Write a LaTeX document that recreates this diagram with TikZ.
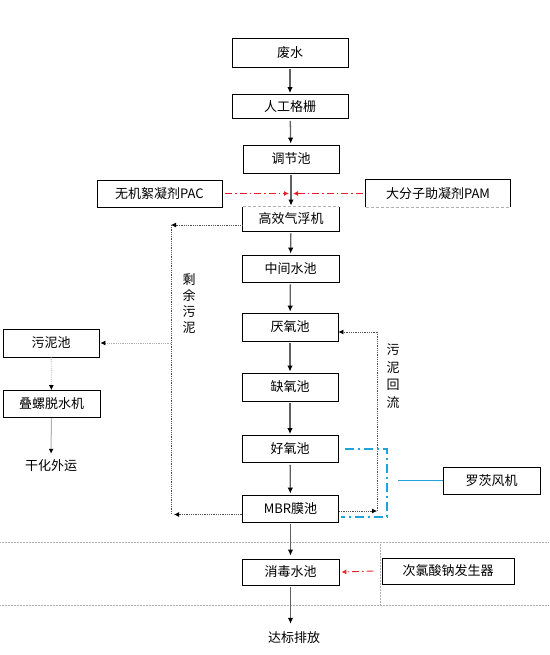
\documentclass[tikz,border=0pt]{standalone}
\usepackage{fontspec}
\setmainfont{Noto Sans CJK SC}
\usetikzlibrary{arrows.meta}
\definecolor{lineg}{HTML}{606060}
\definecolor{dotg}{HTML}{505050}
\definecolor{lightg}{HTML}{B0B0B0}
\definecolor{redd}{HTML}{E8202A}
\definecolor{blued}{HTML}{1FA3DA}
\begin{document}
\begin{tikzpicture}[x=1pt,y=-1pt,
  box/.style={draw=black,line width=0.8pt,minimum height=27pt,inner sep=0pt,font=\fontsize{13}{15}\selectfont},
  plain/.style={inner sep=0pt,font=\fontsize{13}{15}\selectfont},
  flow/.style={draw=lineg,line width=1.3pt,-{Latex[length=6pt,width=5.5pt,black]},shorten <=2pt,shorten >=1pt},
  dotline/.style={draw=dotg,line width=0.8pt,densely dotted},
  dotarrow/.style={dotline,-{Latex[length=5pt,width=5pt,black]}},
  reddash/.style={draw=redd,line width=0.9pt,dash pattern=on 7pt off 3pt on 1.5pt off 3pt,-{Latex[length=5pt,width=5pt,redd]}},
  bluedash/.style={draw=blued,line width=1.6pt,dash pattern=on 9pt off 4pt on 2pt off 4pt},
  sep/.style={draw=lightg,line width=0.5pt,densely dotted}
]
\useasboundingbox (0,0) rectangle (549,655);

% separators
\draw[sep] (0,542) -- (549,542);
\draw[sep] (0,605) -- (549,605);
\draw[sep] (380,542) -- (380,605);

% main chain
\node[box,minimum width=116pt,minimum height=29pt] (feishui) at (290,52.5) {废水};
\node[box,minimum width=116pt,minimum height=24pt] (geshan) at (290,106.5) {人工格栅};
\node[box,minimum width=96pt,minimum height=28pt] (tiaojie) at (291,159) {调节池};
\node[box,draw=none,minimum width=96pt,minimum height=24pt] (qifu) at (291,219) {高效气浮机};
\draw[line width=0.8pt] (qifu.north east) -- (qifu.south east) -- (qifu.south west) -- (qifu.north west);
\draw[draw=lightg,line width=0.6pt,densely dashed] (qifu.north west) -- (qifu.north east);
\node[box,minimum width=97pt] (zhongjian) at (290.5,268.5) {中间水池};
\node[box,minimum width=96pt,minimum height=28pt] (yanyang) at (290,327) {厌氧池};
\node[box,minimum width=96pt,minimum height=28pt] (queyang) at (290,387) {缺氧池};
\node[box,minimum width=96pt] (haoyang) at (290,449) {好氧池};
\node[box,minimum width=96pt] (mbr) at (290.5,508.5) {MBR膜池};
\node[box,minimum width=97pt,minimum height=26pt] (xiaodu) at (290.5,572) {消毒水池};
\node[plain] (dabiao) at (294,638) {达标排放};

% side boxes
\node[box,minimum width=125pt] (pac) at (159.5,193.5) {无机絮凝剂PAC};
\node[box,draw=none,minimum width=144pt] (pam) at (438,193.5) {大分子助凝剂PAM};
\draw[line width=0.8pt] (pam.south west) -- (pam.north west) -- (pam.north east) -- (pam.south east);
\draw[draw=lightg,line width=0.6pt,densely dashed] (pam.south west) -- (pam.south east);
\node[box,minimum width=96pt,minimum height=28pt] (wunichi) at (51,343) {污泥池};
\node[box,minimum width=97pt] (dieluo) at (51.5,404) {叠螺脱水机};
\node[plain] (ganhua) at (51,466) {干化外运};
\node[box,minimum width=97pt] (luoci) at (491.5,480.5) {罗茨风机};
\node[box,minimum width=132pt,minimum height=26pt] (cilv) at (448,571) {次氯酸钠发生器};

% main flow arrows
\draw[flow] (feishui) -- (geshan);
\draw[flow] (geshan) -- (tiaojie);
\draw[flow] (tiaojie) -- (qifu);
\draw[flow] (qifu) -- (zhongjian);
\draw[flow] (zhongjian) -- (yanyang);
\draw[flow] (yanyang) -- (queyang);
\draw[flow] (queyang) -- (haoyang);
\draw[flow] (haoyang) -- (mbr);
\draw[flow,shorten >=3pt] (mbr) -- (xiaodu);
\draw[flow,shorten >=8pt] (xiaodu.south) -- (xiaodu.south |- dabiao.north);

% chemicals
\coordinate (mid) at (290,193.5);
\draw[reddash] ([xshift=3pt]pac.east) -- ([xshift=-1pt]mid);
\draw[reddash] ([xshift=-3pt]pam.west) -- ([xshift=3pt]mid);
\draw[reddash] ([xshift=-8pt]cilv.west) -- ([xshift=2pt]xiaodu.east);

% surplus sludge
\coordinate (lx) at (171,0);
\draw[dotarrow] ([yshift=-6pt]qifu.west) -- ([yshift=-6pt]qifu.west -| lx);
\draw[dotline] ([yshift=-6pt]qifu.west -| lx) -- ([yshift=-6pt]mbr.west -| lx);
\draw[dotarrow] ([yshift=-6pt]mbr.west) -- ([yshift=-6pt,xshift=3pt]mbr.west -| lx);
\draw[draw=lightg,line width=0.8pt,densely dotted,-{Latex[length=5pt,width=5pt,black]}] (wunichi.east -| lx) -- ([xshift=1pt]wunichi.east);
\node[plain,align=center,font=\fontsize{13}{16}\selectfont] (shengyu) at (189,304) {剩\\余\\污\\泥};
\draw[draw=lightg,line width=0.8pt,densely dotted,-{Latex[length=5pt,width=5pt,black]}] (wunichi) -- (dieluo);
\draw[draw=lightg,line width=1pt,-{Latex[length=5pt,width=5pt,black]},shorten >=6pt] (dieluo) -- (ganhua);

% sludge return
\coordinate (rx) at (377,0);
\draw[dotline] ([yshift=-2.5pt]mbr.east -| rx) -- ([yshift=-5pt]yanyang.east -| rx);
\draw[dotarrow] ([yshift=-5pt]yanyang.east -| rx) -- ([yshift=-5pt]yanyang.east);
\draw[dotarrow] ([yshift=-2.5pt]mbr.east) -- ([yshift=-2.5pt]mbr.east -| rx);
\node[plain,align=center,font=\fontsize{13}{17.5}\selectfont] (huiliu) at (393,376) {污\\泥\\回\\流};

% aeration
\coordinate (bx) at (387,0);
\coordinate (bj) at (398,480.5);
\draw[bluedash] ([xshift=7pt]haoyang.east) -- (haoyang.east -| bx) -- ([yshift=-8.5pt]mbr.east -| bx) -- ([yshift=-8.5pt,xshift=2pt]mbr.east);
\draw[draw=blued,line width=1.6pt] (bj) -- (luoci.west);
\end{tikzpicture}
\end{document}
